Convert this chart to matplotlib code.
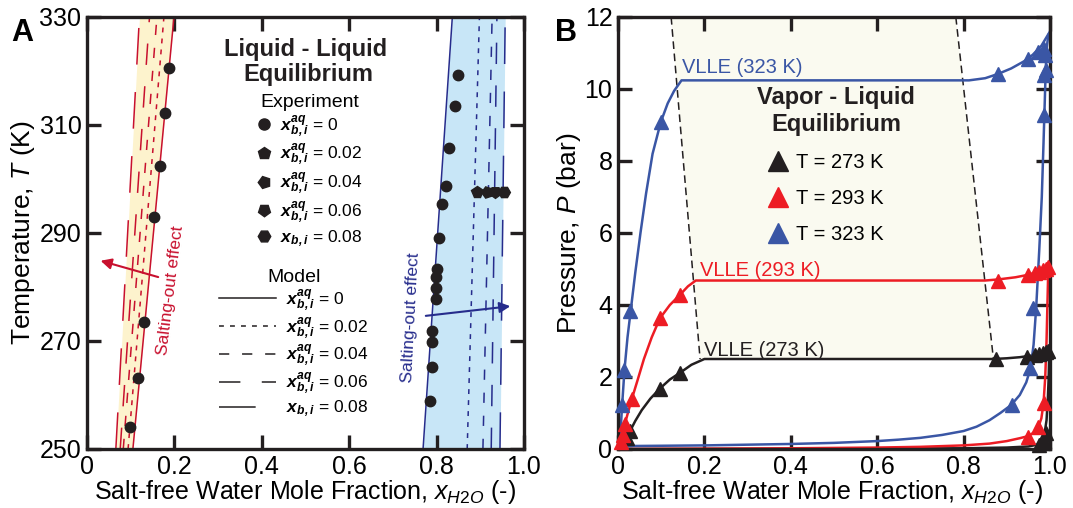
import matplotlib
matplotlib.use("Agg")
import matplotlib.pyplot as plt
from matplotlib.lines import Line2D

plt.rcParams['font.family'] = ['Liberation Sans', 'DejaVu Sans']
plt.rcParams['mathtext.fontset'] = 'custom'
plt.rcParams['mathtext.rm'] = 'Liberation Sans'
plt.rcParams['mathtext.it'] = 'Liberation Sans:italic'
plt.rcParams['mathtext.bf'] = 'Liberation Sans:bold'
plt.rcParams['mathtext.bfit'] = 'Liberation Sans:bold:italic'

# ---------------- Panel A data (LLE) ----------------
T_ends = [250, 330]
salt_levels = ['0', '0.02', '0.04', '0.06', '0.08']
# organic-rich branch model lines (x at 250 K, x at 330 K)
org_x = {'0': [0.105, 0.199], '0.02': [0.094, 0.176], '0.04': [0.083, 0.160],
         '0.06': [0.076, 0.143], '0.08': [0.066, 0.120]}
# water-rich branch model lines
aq_x = {'0': [0.769, 0.836], '0.02': [0.870, 0.898], '0.04': [0.906, 0.927],
        '0.06': [0.925, 0.938], '0.08': [0.945, 0.957]}

exp_org_x = [0.188, 0.178, 0.167, 0.153, 0.130, 0.116, 0.098]
exp_org_T = [320.6, 312.2, 302.4, 293.0, 273.5, 263.1, 254.1]
exp_aq_x = [0.848, 0.841, 0.829, 0.821, 0.813, 0.806, 0.802, 0.799, 0.799, 0.799,
            0.790, 0.790, 0.790, 0.786]
exp_aq_T = [319.2, 313.5, 305.8, 298.7, 295.4, 289.0, 283.4, 281.8, 279.8, 277.8,
            271.8, 269.8, 265.2, 258.8]
salt_exp_x = [0.893, 0.916, 0.934, 0.955]
salt_exp_T = [297.6, 297.6, 297.6, 297.6]

# ---------------- Panel B data (VLE) ----------------
k1_x = [0.012, 0.02, 0.028, 0.04, 0.055, 0.075, 0.097, 0.12, 0.144, 0.17, 0.2, 0.5, 0.869, 0.9, 0.93, 0.96, 0.98, 1.0]
k1_p = [0.15, 0.32, 0.5, 0.78, 1.08, 1.4, 1.68, 1.93, 2.12, 2.34, 2.5, 2.5, 2.5, 2.52, 2.55, 2.6, 2.66, 2.75]
k2_x = [0.0, 0.3, 0.6, 0.8, 0.9, 0.95, 0.97, 0.98, 0.987, 0.992, 0.995, 0.997, 0.998]
k2_p = [0.0, 0.0, 0.01, 0.02, 0.04, 0.07, 0.12, 0.2, 0.4, 0.8, 1.4, 2.0, 2.6]
k_tri_x = [0.02, 0.028, 0.097, 0.144, 0.876, 0.946, 0.965, 0.975, 0.983, 0.99, 0.995, 0.975, 0.985, 0.99]
k_tri_p = [0.3, 0.5, 1.68, 2.1, 2.5, 2.55, 2.6, 2.63, 2.66, 2.7, 2.72, 0.1, 0.25, 0.45]

r1_x = [0.004, 0.008, 0.012, 0.016, 0.024, 0.032, 0.045, 0.06, 0.078, 0.097, 0.12, 0.144, 0.162, 0.18, 0.5, 0.85, 0.88, 0.92, 0.95, 0.97, 0.99, 1.0]
r1_p = [0.05, 0.25, 0.45, 0.7, 1.05, 1.39, 1.9, 2.5, 3.1, 3.63, 4.0, 4.29, 4.52, 4.68, 4.68, 4.68, 4.71, 4.77, 4.84, 4.92, 5.02, 5.1]
r2_x = [0.0, 0.2, 0.4, 0.6, 0.7, 0.8, 0.86, 0.9, 0.93, 0.95, 0.963, 0.973, 0.98, 0.985, 0.989, 0.992, 0.994, 0.996]
r2_p = [0.0, 0.01, 0.02, 0.04, 0.06, 0.1, 0.15, 0.22, 0.3, 0.36, 0.46, 0.61, 0.85, 1.27, 2.0, 3.0, 4.0, 5.0]
r_tri_x = [0.008, 0.012, 0.016, 0.032, 0.097, 0.144, 0.88, 0.95, 0.965, 0.975, 0.983, 0.99, 0.995, 0.985, 0.973, 0.95]
r_tri_p = [0.2, 0.39, 0.7, 1.39, 3.63, 4.29, 4.68, 4.82, 4.88, 4.93, 4.97, 5.0, 5.05, 1.27, 0.61, 0.33]

b1_x = [0.004, 0.007, 0.010, 0.015, 0.022, 0.030, 0.040, 0.052, 0.065, 0.080, 0.099, 0.115, 0.130, 0.147, 0.5, 0.8125, 0.85, 0.88, 0.91, 0.94, 0.96, 0.98, 1.0]
b1_p = [0.1, 0.7, 1.3, 2.2, 3.1, 3.9, 4.9, 6.0, 7.1, 8.2, 9.08, 9.6, 9.95, 10.24, 10.24, 10.24, 10.3, 10.42, 10.57, 10.77, 10.95, 11.2, 11.6]
b2_x = [0.0, 0.1, 0.2, 0.3, 0.4, 0.5, 0.6, 0.65, 0.7, 0.75, 0.8, 0.83, 0.86, 0.885, 0.91, 0.93, 0.945, 0.955, 0.962, 0.968, 0.975, 0.981, 0.985, 0.988, 0.99, 0.992, 0.996]
b2_p = [0.08, 0.09, 0.1, 0.12, 0.14, 0.17, 0.22, 0.26, 0.31, 0.39, 0.5, 0.62, 0.8, 1.0, 1.22, 1.5, 1.85, 2.24, 2.9, 3.92, 5.5, 7.0, 8.5, 9.7, 10.5, 11.1, 11.5]
b_tri_x = [0.009, 0.014, 0.028, 0.099, 0.88, 0.95, 0.973, 0.985, 0.99, 0.985, 0.985, 0.988, 0.961, 0.954, 0.911]
b_tri_p = [1.22, 2.2, 3.82, 9.08, 10.43, 10.82, 11.03, 11.1, 10.52, 10.38, 9.27, 10.95, 3.92, 2.24, 1.22]

vlle_left_x = [0.123, 0.19]
vlle_left_p = [12.0, 2.5]
vlle_right_x = [0.782, 0.869]
vlle_right_p = [12.0, 2.5]

# ---------------- styles ----------------
RED_A = '#c8102e'
BLUE_A = '#262c8c'
YEL = '#fdf3cd'
LBLUE = '#c8e6f7'
BLK = '#231f20'
RED_B = '#ed1c24'
BLUE_B = '#3a56a5'
CREAM = '#fafaf0'
dash_styles = {'0': '-', '0.02': (0, (3.2, 4.0)), '0.04': (0, (6.7, 8.4)),
               '0.06': (0, (14, 14)), '0.08': (0, (24, 18))}

fig = plt.figure(figsize=(10.73, 5.08), dpi=100)
axA = fig.add_axes([87/1073, 59/508, 437/1073, 432/508])
axB = fig.add_axes([618/1073, 59/508, 432/1073, 432/508])


def style_axes(ax):
    for s in ax.spines.values():
        s.set_linewidth(2.4)
        s.set_color(BLK)
    ax.tick_params(direction='in', length=10, width=2.4, top=True, right=True,
                   labelsize=18, pad=4, color=BLK)


# ---------------- Panel A ----------------
axA.fill_betweenx(T_ends, org_x['0.08'], org_x['0'], color=YEL, lw=0, zorder=1)
axA.fill_betweenx(T_ends, aq_x['0'], aq_x['0.08'], color=LBLUE, lw=0, zorder=1)
for lvl in salt_levels:
    axA.plot(org_x[lvl], T_ends, color=RED_A, lw=1.1, linestyle=dash_styles[lvl], zorder=2)
    axA.plot(aq_x[lvl], T_ends, color=BLUE_A, lw=1.1, linestyle=dash_styles[lvl], zorder=2)
axA.plot(exp_org_x, exp_org_T, 'o', color=BLK, ms=7.5, zorder=3)
axA.plot(exp_aq_x, exp_aq_T, 'o', color=BLK, ms=7.5, zorder=3)
salt_markers = ['p', (5, 0, 90), (5, 0, 180), 'H']
for xx, tt, mk in zip(salt_exp_x, salt_exp_T, salt_markers):
    axA.plot([xx], [tt], marker=mk, color=BLK, ms=8.5, ls='none', zorder=3)

axA.set_xlim(0, 1)
axA.set_ylim(250, 330)
axA.set_xticks([0, 0.2, 0.4, 0.6, 0.8, 1.0])
axA.set_xticklabels(['0', '0.2', '0.4', '0.6', '0.8', '1.0'])
axA.set_yticks([250, 270, 290, 310, 330])
style_axes(axA)
axA.set_xlabel(r'Salt-free Water Mole Fraction, $x_{\mathit{H2O}}$ (-)', fontsize=18)
axA.set_ylabel(r'Temperature, $T$ (K)', fontsize=19)
axA.xaxis.set_label_coords(0.5, -0.067)
axA.yaxis.set_label_coords(-0.114, 0.5)

# salting-out annotations
axA.annotate('', xy=(0.025, 285.0), xytext=(0.169, 281.7),
             arrowprops=dict(arrowstyle='-|>', color=RED_A, lw=1.5, mutation_scale=16))
axA.text(0.19, 279.4, 'Salting-out effect', color=RED_A, fontsize=12.5, rotation=83,
         ha='center', va='center')
axA.annotate('', xy=(0.975, 276.5), xytext=(0.769, 274.6),
             arrowprops=dict(arrowstyle='-|>', color=BLUE_A, lw=1.5, mutation_scale=16))
axA.text(0.741, 274.4, 'Salting-out effect', color=BLUE_A, fontsize=12.5, rotation=87,
         ha='center', va='center')

axA.text(0.501, 0.924, 'Liquid - Liquid', transform=axA.transAxes, fontsize=17,
         fontweight='bold', ha='center', va='center', color=BLK)
axA.text(0.506, 0.866, 'Equilibrium', transform=axA.transAxes, fontsize=17,
         fontweight='bold', ha='center', va='center', color=BLK)

lab_aq = [r'$\mathbfit{x}_{\mathbfit{b,i}}^{\mathbfit{aq}}$ = ' + v for v in salt_levels[:4]] + \
         [r'$\mathbfit{x}_{\mathbfit{b,i}}$ = 0.08']
exp_handles = [Line2D([], [], marker='o', color=BLK, ls='none', ms=8)] + \
              [Line2D([], [], marker=m, color=BLK, ls='none', ms=9) for m in salt_markers]
leg1 = axA.legend(exp_handles, lab_aq, title='Experiment', loc='upper left',
                  bbox_to_anchor=(0.389, 0.822), frameon=False, fontsize=12.5,
                  title_fontsize=14, handlelength=0.8, handletextpad=0.5,
                  labelspacing=0.14, borderpad=0, borderaxespad=0)
axA.add_artist(leg1)
mod_handles = [Line2D([], [], color=BLK, lw=1.1, linestyle=dash_styles[l]) for l in salt_levels]
leg2 = axA.legend(mod_handles, lab_aq, title='Model', loc='upper left',
                  bbox_to_anchor=(0.302, 0.417), frameon=False, fontsize=12.5,
                  title_fontsize=14, handlelength=3.3, handletextpad=0.57,
                  labelspacing=0.09, borderpad=0, borderaxespad=0)

# ---------------- Panel B ----------------
axB.fill([vlle_left_x[0], vlle_right_x[0], vlle_right_x[1], vlle_left_x[1]],
         [vlle_left_p[0], vlle_right_p[0], vlle_right_p[1], vlle_left_p[1]],
         color=CREAM, lw=0, zorder=0)
axB.plot(vlle_left_x, vlle_left_p, color=BLK, lw=1.1, ls=(0, (5, 3)), zorder=1)
axB.plot(vlle_right_x, vlle_right_p, color=BLK, lw=1.1, ls=(0, (5, 3)), zorder=1)

for (x1, p1, x2, p2, tx, tp, col) in [
        (k1_x, k1_p, k2_x, k2_p, k_tri_x, k_tri_p, BLK),
        (r1_x, r1_p, r2_x, r2_p, r_tri_x, r_tri_p, RED_B),
        (b1_x, b1_p, b2_x, b2_p, b_tri_x, b_tri_p, BLUE_B)]:
    axB.plot(x1, p1, color=col, lw=1.8, zorder=2)
    axB.plot(x2, p2, color=col, lw=1.8, zorder=2)
    axB.plot(tx, tp, '^', color=col, ms=10, zorder=3, clip_on=False)

axB.text(0.148, 10.6, 'VLLE (323 K)', color=BLUE_B, fontsize=14.5, va='center', ha='left')
axB.text(0.19, 4.97, 'VLLE (293 K)', color=RED_B, fontsize=14.5, va='center', ha='left')
axB.text(0.2, 2.75, 'VLLE (273 K)', color=BLK, fontsize=14.5, va='center', ha='left')

axB.set_xlim(0, 1)
axB.set_ylim(0, 12)
axB.set_xticks([0, 0.2, 0.4, 0.6, 0.8, 1.0])
axB.set_xticklabels(['0', '0.2', '0.4', '0.6', '0.8', '1.0'])
axB.set_yticks([0, 2, 4, 6, 8, 10, 12])
style_axes(axB)
axB.set_xlabel(r'Salt-free Water Mole Fraction, $x_{\mathit{H2O}}$ (-)', fontsize=18)
axB.set_ylabel(r'Pressure, $P$ (bar)', fontsize=19)
axB.xaxis.set_label_coords(0.495, -0.067)
axB.yaxis.set_label_coords(-0.081, 0.5)

axB.text(0.505, 0.8125, 'Vapor - Liquid', transform=axB.transAxes, fontsize=17,
         fontweight='bold', ha='center', va='center', color=BLK)
axB.text(0.505, 0.752, 'Equilibrium', transform=axB.transAxes, fontsize=17,
         fontweight='bold', ha='center', va='center', color=BLK)
vle_handles = [Line2D([], [], marker='^', color=c, ls='none', ms=14) for c in (BLK, RED_B, BLUE_B)]
axB.legend(vle_handles, ['T = 273 K', 'T = 293 K', 'T = 323 K'], loc='upper left',
           bbox_to_anchor=(0.347, 0.686), frameon=False, fontsize=14.5, handlelength=1.0,
           handletextpad=0.4, labelspacing=0.85, borderpad=0, borderaxespad=0)

fig.text(22/1073, 1 - 33/508, 'A', fontsize=22, fontweight='bold', ha='center', va='center')
fig.text(566/1073, 1 - 33/508, 'B', fontsize=22, fontweight='bold', ha='center', va='center')

fig.savefig('out.png', dpi=100)
